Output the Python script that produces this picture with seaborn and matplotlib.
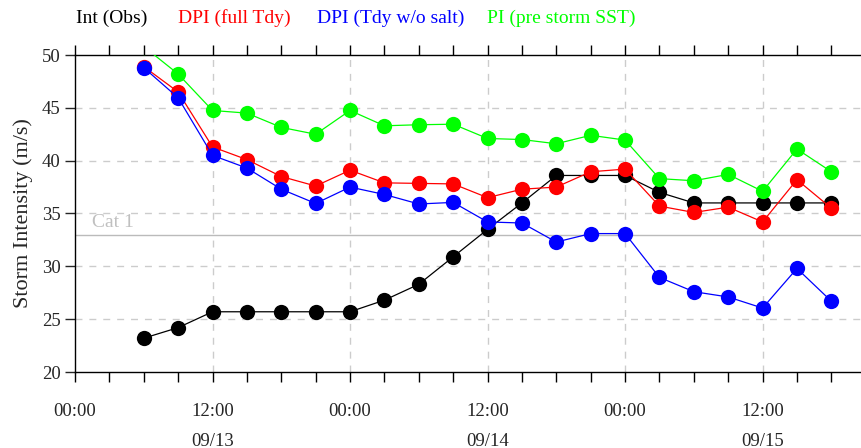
import matplotlib
matplotlib.use("Agg")
import matplotlib.pyplot as plt
import seaborn as sns
import pandas as pd
from matplotlib.ticker import FixedLocator

# ---- data ----
hours = [6, 9, 12, 15, 18, 21, 24, 27, 30, 33, 36, 39, 42, 45, 48, 51, 54, 57, 60, 63, 66]
int_obs = [23.2, 24.2, 25.7, 25.7, 25.7, 25.7, 25.7, 26.8, 28.3, 30.9, 33.5, 36.0, 38.6, 38.6, 38.6,
           37.0, 36.0, 36.0, 36.0, 36.0, 36.0]
dpi_full = [48.9, 46.5, 41.3, 40.1, 38.5, 37.6, 39.1, 37.9, 37.85, 37.8, 36.5, 37.3, 37.5, 38.95, 39.2,
            35.7, 35.1, 35.6, 34.2, 38.2, 35.5]
dpi_nosalt = [48.8, 45.95, 40.5, 39.3, 37.3, 35.95, 37.5, 36.8, 35.9, 36.05, 34.2, 34.1, 32.3, 33.1, 33.1,
              28.95, 27.6, 27.1, 26.05, 29.8, 26.7]
pi_pre = [50.8, 48.2, 44.75, 44.5, 43.15, 42.5, 44.75, 43.3, 43.4, 43.45, 42.1, 42.0, 41.6, 42.4, 41.95,
          38.3, 38.1, 38.7, 37.1, 41.1, 38.95]
series_names = ["Int (Obs)", "DPI (full Tdy)", "DPI (Tdy w/o salt)", "PI (pre storm SST)"]
series_colors = ["#000000", "#ff0000", "#0000ff", "#00ff00"]
major_ticks = [0, 12, 24, 36, 48, 60]
major_labels = ["00:00", "12:00\n09/13", "00:00", "12:00\n09/14", "00:00", "12:00\n09/15"]
minor_ticks = [0, 3, 6, 9, 12, 15, 18, 21, 24, 27, 30, 33, 36, 39, 42, 45, 48, 51, 54, 57, 60, 63, 66]
y_ticks = [20, 25, 30, 35, 40, 45, 50]
cat1_value = 33

frames = []
for name, vals in zip(series_names, [int_obs, dpi_full, dpi_nosalt, pi_pre]):
    frames.append(pd.DataFrame({"hour": hours, "value": vals, "series": name}))
df = pd.concat(frames, ignore_index=True)

sns.set_style("ticks")
plt.rcParams["font.family"] = ["Liberation Serif", "DejaVu Serif"]

fig = plt.figure(figsize=(8.62, 4.48), dpi=100)
ax = fig.add_axes([75 / 862, 1 - 372 / 448, 1 - 75 / 862 + 0.001, (372 - 55) / 448])

# grid
for yv in [25, 30, 35, 40, 45]:
    ax.axhline(yv, color="#cccccc", lw=1.0, ls=(0, (5, 5)), zorder=0)
for xv in [12, 24, 36, 48, 60]:
    ax.axvline(xv, color="#cccccc", lw=1.0, ls=(0, (5, 5)), zorder=0)

ax.axhline(cat1_value, color="#bbbbbb", lw=1.0, zorder=1)
ax.text(1.5, cat1_value + 0.35, "Cat 1", color="#c0c0c0", fontsize=14, va="bottom", ha="left")

for name, col in zip(series_names, series_colors):
    sns.lineplot(data=df[df["series"] == name], x="hour", y="value", ax=ax, color=col,
                 marker="o", markersize=11, markeredgewidth=0, lw=0.9, legend=False,
                 zorder=3)

ax.set_xlim(0, 68.75)
ax.set_ylim(20, 50)
ax.set_xlabel("")
ax.set_ylabel("Storm Intensity (m/s)", fontsize=16, labelpad=6)
ax.xaxis.set_major_locator(FixedLocator(major_ticks))
ax.xaxis.set_minor_locator(FixedLocator(minor_ticks))
ax.set_xticklabels(major_labels, linespacing=2.0)
ax.set_yticks(y_ticks)
ax.tick_params(axis="x", which="both", direction="out", length=7, width=1, top=True,
               bottom=True, labeltop=False, pad=15, labelsize=13.5, color="black")
ax.tick_params(axis="y", which="both", direction="out", length=7, width=1, labelsize=13.5,
               right=False)
for lab in ax.get_xticklabels():
    lab.set_verticalalignment("top")
for side in ["left", "bottom", "top"]:
    ax.spines[side].set_visible(True)
    ax.spines[side].set_color("black")
    ax.spines[side].set_linewidth(1.0)
ax.spines["right"].set_visible(False)

# legend as colored text
legend_x = [76, 178, 317, 487]
for name, col, xp in zip(series_names, series_colors, legend_x):
    fig.text(xp / 862, 1 - 18 / 448, name, color=col, fontsize=14, ha="left", va="center")

fig.savefig("out.png", dpi=100)
